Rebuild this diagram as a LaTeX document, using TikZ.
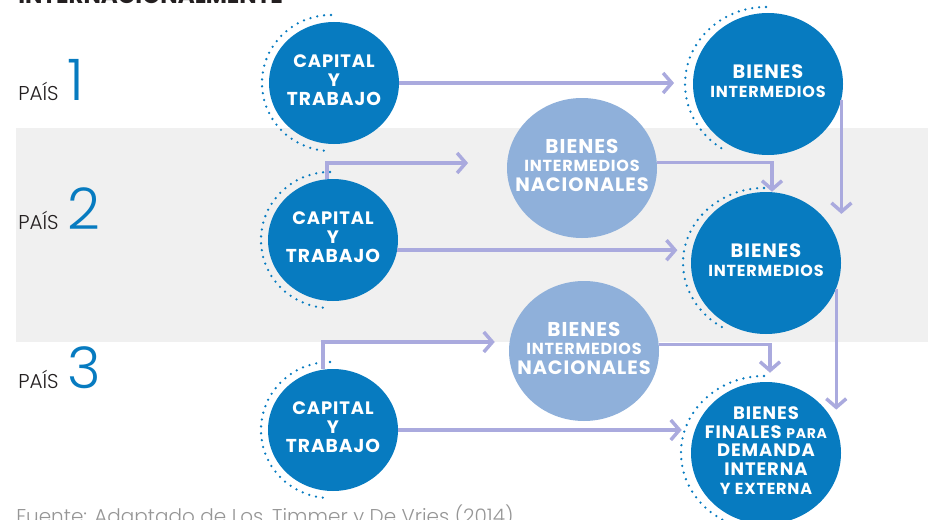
\documentclass[tikz,border=0pt]{standalone}
\usepackage{fontspec}
\setmainfont{Poppins}
\newfontfamily\ligera{Poppins Light}
\newfontfamily\circulo{Poppins}[LetterSpace=5]
\usetikzlibrary{shapes.geometric,arrows.meta,calc}
\definecolor{azul}{RGB}{7,123,192}
\definecolor{celeste}{RGB}{143,176,218}
\definecolor{banda}{RGB}{240,240,240}
\definecolor{flecha}{RGB}{170,170,222}
\definecolor{gris}{RGB}{150,150,150}
\definecolor{tinta}{RGB}{35,31,32}
\newcommand{\caja}[1]{\makebox[0pt]{\begin{tabular}{@{}c@{}}#1\end{tabular}}}
\newcommand{\tam}[1]{\fontsize{#1}{14}\selectfont}
\tikzset{
  circ/.style={ellipse, fill=azul, text=white, inner sep=0pt, font=\circulo\bfseries\tam{13.5}},
  capital/.style={circ, minimum width=97.5pt, minimum height=91.5pt},
  bien/.style={circ, minimum width=112.5pt, minimum height=106.5pt},
  nac/.style={bien, fill=celeste, minimum height=105pt},
  anillo/.style={azul, line width=1.9pt, line cap=round, dash pattern=on 0pt off 5.2pt},
  flujo/.style={flecha, line width=2.6pt, -{Straight Barb[length=6.5pt,width=15pt]}},
  pais/.style={inner sep=0pt, anchor=base west, text=tinta, font=\ligera\fontsize{15}{15}\selectfont},
  num/.style={inner sep=0pt, anchor=base west, text=azul, font=\ligera\fontsize{43}{43}\selectfont},
}
\begin{document}
\begin{tikzpicture}[x=0.75pt,y=0.75pt]
  \useasboundingbox (0,0) rectangle (928,519);
  \clip (0,0) rectangle (928,519);
  \fill[banda] (16,177) rectangle (928,391);

  \node[inner sep=0pt, anchor=base west, text=tinta, font=\bfseries\fontsize{17.3}{17}\selectfont]
    (titulo) at (18,515) {INTERNACIONALMENTE};
  \node[inner sep=0pt, anchor=base west, text=gris, font=\ligera\fontsize{15}{15}\selectfont]
    (fuente) at (16,-4) {Fuente: Adaptado de Los, Timmer y De Vries (2014)};

  \node[pais] (p1) at (18,419) {PAÍS};
  \node[num] (n1) at ($(p1.base east)+(8,0)$) {1};
  \node[pais] (p2) at (18,290) {PAÍS};
  \node[num] (n2) at ($(p2.base east)+(8,0)$) {2};
  \node[pais] (p3) at (18,131) {PAÍS};
  \node[num] (n3) at ($(p3.base east)+(8,0)$) {3};

  \node[capital] (cap1) at (334,436) {\caja{CAPITAL\\Y\\\tam{14}TRABAJO}};
  \node[capital] (cap2) at (333,279) {\caja{CAPITAL\\Y\\\tam{14}TRABAJO}};
  \node[capital] (cap3) at (333,89) {\caja{CAPITAL\\Y\\\tam{14}TRABAJO}};
  \node[nac] (bin1) at (582,351) {\caja{\tam{15}BIENES\\\tam{12}INTERMEDIOS\\\tam{14.5}NACIONALES}};
  \node[nac] (bin2) at (584,168) {\caja{\tam{15}BIENES\\\tam{12}INTERMEDIOS\\\tam{14.5}NACIONALES}};
  \node[bien] (bi1) at (768,435) {\caja{\tam{14.5}BIENES\\\tam{12}INTERMEDIOS}};
  \node[bien] (bi2) at (766,256) {\caja{\tam{14.5}BIENES\\\tam{12}INTERMEDIOS}};
  \node[bien] (bfin) at (766,66) {\raisebox{-4pt}{\caja{BIENES\\FINALES {\tam{10.5}PARA}\\DEMANDA\\INTERNA\\\tam{12}Y EXTERNA}}};

  \draw[anillo] ($(cap1)+(-3,68)$) arc[start angle=90, end angle=268, x radius=69, y radius=68];
  \draw[anillo] ($(cap2)+(-3,68)$) arc[start angle=90, end angle=268, x radius=69, y radius=68];
  \draw[anillo] ($(cap3)+(-3,68)$) arc[start angle=90, end angle=268, x radius=69, y radius=68];
  \draw[anillo] ($(bi1)+(-2,77)$) arc[start angle=90, end angle=240, x radius=81, y radius=77];
  \draw[anillo] ($(bi2)+(-2,75)$) arc[start angle=90, end angle=240, x radius=81, y radius=75];
  \draw[anillo] ($(bfin)+(-2,77)$) arc[start angle=90, end angle=260, x radius=83, y radius=77];

  \draw[flujo, shorten >=14pt] (cap1.east) -- (cap1.east -| bi1.west);
  \draw[flujo, shorten >=29pt] ($(cap2.north)+(-6,0)$) |- ($(bin1.west)+(0,5)$);
  \draw[flujo, shorten >=10pt] (cap2.351) -- (cap2.351 -| bi2.west);
  \draw[flujo] (bin1.4) -| ($(bi2.north)+(6,0)$);
  \draw[flujo] (bi1.348) -- (bi1.348 |- bi2.42);
  \draw[flujo] (bi2.340) -- (bi2.340 |- bfin.36);
  \draw[flujo, shorten >=6.75pt] (bin2.5) -| ($(bfin.north)+(4,0)$);
  \draw[flujo, shorten >=10.5pt] ($(cap3.north)+(-10,0)$) |- ($(bin2.west)+(0,9)$);
  \draw[flujo, shorten >=6.75pt] (cap3.east) -- (cap3.east -| bfin.west);
\end{tikzpicture}
\end{document}
